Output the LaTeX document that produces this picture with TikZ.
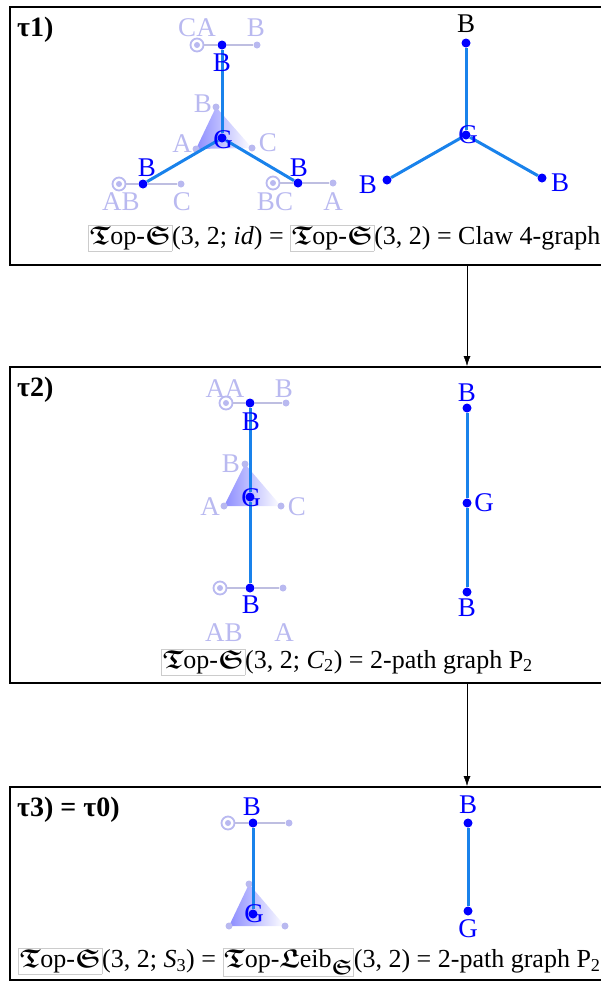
\documentclass[tikz,border=0pt]{standalone}
\usepackage{amsmath,amssymb}
\usepackage{fontspec}
\setmainfont{Liberation Serif}
\usetikzlibrary{arrows.meta}
\definecolor{armblue}{RGB}{25,130,235}
\definecolor{pale}{RGB}{185,185,240}
\definecolor{paleline}{RGB}{190,190,225}
\pgfdeclarelayer{back}
\pgfsetlayers{back,main}
\newcommand{\frk}[1]{$\boldsymbol{\mathfrak{#1}}$}
\newcommand{\grbox}[1]{{\setlength{\fboxsep}{1pt}\setlength{\fboxrule}{0.7pt}\fcolorbox{black!20}{white}{#1}}}
\newcommand{\TopS}{\frk{T}op-\frk{S}}
\newcommand{\subS}{\raisebox{-7pt}{\fontsize{21}{21}\selectfont\frk{S}}}
\begin{document}
\begin{tikzpicture}[x=1pt, y=-1pt, >={Latex[length=10pt,width=7pt]},
  frame/.style={draw, line width=2.4pt},
  vtx/.style={circle, fill=blue, inner sep=0pt, minimum size=9pt},
  lvtx/.style={circle, fill=pale, inner sep=0pt, minimum size=7pt},
  ring/.style={circle, draw=pale, line width=1.8pt, inner sep=0pt, minimum size=13pt,
    path picture={\fill[pale] (path picture bounding box.center) circle (3pt);}},
  arm/.style={armblue, line width=3pt},
  hook/.style={paleline, line width=1.8pt},
  lab/.style={text=blue, inner sep=0pt, font=\fontsize{27}{27}\selectfont},
  llab/.style={lab, text=pale},
  capt/.style={anchor=west, inner sep=0pt, font=\fontsize{26}{28}\selectfont},
  tag/.style={anchor=base west, inner sep=0pt, font=\fontsize{28}{28}\selectfont\bfseries}]
\useasboundingbox (0,0) rectangle (600,983);

% frames
\draw[frame] (10,7) rectangle (640,265);
\draw[frame] (10,367) rectangle (640,683);
\draw[frame] (10,787) rectangle (640,980);
\node[tag] (t1) at (17,36) {τ1)};
\node[tag] (t2) at (17,396) {τ2)};
\node[tag] (t3) at (17,816) {τ3) = τ0)};

% tau1, left
\node[vtx] (g1) at (222,138) {};
\node[vtx] (b1t) at (222,45) {};
\node[vtx] (b1l) at (143,184) {};
\node[vtx] (b1r) at (298,183) {};
\node[ring] (r1t) at (197,45) {};
\node[lvtx] (e1t) at (257,45) {};
\node[ring] (r1l) at (119,184) {};
\node[lvtx] (e1l) at (181,184) {};
\node[ring] (r1r) at (273,183) {};
\node[lvtx] (e1r) at (333,183) {};
\node[lvtx] (tb1) at (216,107) {};
\node[lvtx] (ta1) at (196,149) {};
\node[lvtx] (tc1) at (252,148) {};
\begin{pgfonlayer}{back}
\shade[left color=blue!45, right color=white] (tb1.center) -- (ta1.center) -- (tc1.center) -- cycle;
\end{pgfonlayer}
\draw[hook] (r1t) -- (b1t) -- (e1t);
\draw[hook] (r1l) -- (b1l) -- (e1l);
\draw[hook] (r1r) -- (b1r) -- (e1r);
\draw[arm] (g1) -- (b1t);
\draw[arm] (g1) -- (b1l);
\draw[arm] (g1) -- (b1r);
\node[llab] (l1ca) at (197,28) {CA};
\node[llab] (l1b) at (256,28) {B};
\node[lab] (l1t) at (222,63) {B};
\node[llab] (l1ab) at (121,202) {AB};
\node[llab] (l1c) at (182,202) {C};
\node[lab] (l1l) at (147,168) {B};
\node[llab] (l1bc) at (275,202) {BC};
\node[llab] (l1a) at (333,202) {A};
\node[lab] (l1r) at (299,168) {B};
\node[llab] (l1tb) at (203,104) {B};
\node[llab] (l1ta) at (182,144) {A};
\node[llab] (l1tc) at (268,143) {C};
\node[lab] (l1g) at (223,140) {G};

% tau1, right
\node[vtx] (c1g) at (466,135) {};
\node[vtx] (c1t) at (466,43) {};
\node[vtx] (c1l) at (387,180) {};
\node[vtx] (c1r) at (542,178) {};
\draw[arm] (c1g) -- (c1t);
\draw[arm] (c1g) -- (c1l);
\draw[arm] (c1g) -- (c1r);
\node[lab, text=black] (m1t) at (466,24) {B};
\node[lab] (m1l) at (368,185) {B};
\node[lab] (m1r) at (560,183) {B};
\node[lab] (m1g) at (468,135) {G};
\node[capt] (cap1) at (88,238) {\grbox{\TopS}(3, 2; \textit{id}) = \grbox{\TopS}(3, 2) = Claw 4-graph};

% tau2, left
\node[vtx] (g2) at (250,497) {};
\node[vtx] (b2t) at (250,403) {};
\node[vtx] (b2b) at (250,588) {};
\node[ring] (r2t) at (226,403) {};
\node[lvtx] (e2t) at (286,403) {};
\node[ring] (r2b) at (220,588) {};
\node[lvtx] (e2b) at (283,588) {};
\node[lvtx] (tb2) at (245,464) {};
\node[lvtx] (ta2) at (224,506) {};
\node[lvtx] (tc2) at (281,506) {};
\begin{pgfonlayer}{back}
\shade[left color=blue!45, right color=white] (tb2.center) -- (ta2.center) -- (tc2.center) -- cycle;
\end{pgfonlayer}
\draw[hook] (r2t) -- (b2t) -- (e2t);
\draw[hook] (r2b) -- (b2b) -- (e2b);
\draw[arm] (g2) -- (b2t);
\draw[arm] (g2) -- (b2b);
\node[llab] (l2aa) at (225,389) {AA};
\node[llab] (l2b) at (284,389) {B};
\node[lab] (l2t) at (251,422) {B};
\node[llab] (l2tb) at (231,464) {B};
\node[llab] (l2ta) at (210,507) {A};
\node[llab] (l2tc) at (297,507) {C};
\node[lab] (l2g) at (251,498) {G};
\node[lab] (l2bb) at (251,605) {B};
\node[llab] (l2ab) at (224,633) {AB};
\node[llab] (l2a) at (284,633) {A};

% tau2, right
\node[vtx] (c2t) at (467,408) {};
\node[vtx] (c2g) at (467,503) {};
\node[vtx] (c2b) at (467,592) {};
\draw[arm] (c2t) -- (c2g) -- (c2b);
\node[lab] (m2t) at (467,393) {B};
\node[lab] (m2g) at (484,503) {G};
\node[lab] (m2b) at (467,608) {B};
\node[capt] (cap2) at (161,662) {\grbox{\TopS}(3, 2; \textit{C}\textsubscript{2}) = 2-path graph P\textsubscript{2}};

% tau3, left
\node[vtx] (g3) at (253,914) {};
\node[vtx] (b3t) at (253,823) {};
\node[ring] (r3t) at (228,823) {};
\node[lvtx] (e3t) at (289,823) {};
\node[lvtx] (tb3) at (249,884) {};
\node[lvtx] (ta3) at (229,926) {};
\node[lvtx] (tc3) at (285,926) {};
\begin{pgfonlayer}{back}
\shade[left color=blue!45, right color=white] (tb3.center) -- (ta3.center) -- (tc3.center) -- cycle;
\end{pgfonlayer}
\draw[hook] (r3t) -- (b3t) -- (e3t);
\draw[arm] (g3) -- (b3t);
\node[lab] (l3t) at (252,807) {B};
\node[lab] (l3g) at (254,914) {G};

% tau3, right
\node[vtx] (c3t) at (468,823) {};
\node[vtx] (c3g) at (468,911) {};
\draw[arm] (c3t) -- (c3g);
\node[lab] (m3t) at (468,805) {B};
\node[lab] (m3g) at (468,929) {G};
\node[capt] (cap3) at (18,962) {\grbox{\TopS}(3, 2; \textit{S}\textsubscript{3}) = \grbox{\frk{T}op-\frk{L}eib\subS}(3, 2) = 2-path graph P\textsubscript{2}};

% steps
\coordinate (s1) at (467,266);
\coordinate (s2) at (467,366);
\coordinate (s3) at (467,684);
\coordinate (s4) at (467,786);
\draw[->] (s1) -- (s2);
\draw[->] (s3) -- (s4);
\end{tikzpicture}
\end{document}
